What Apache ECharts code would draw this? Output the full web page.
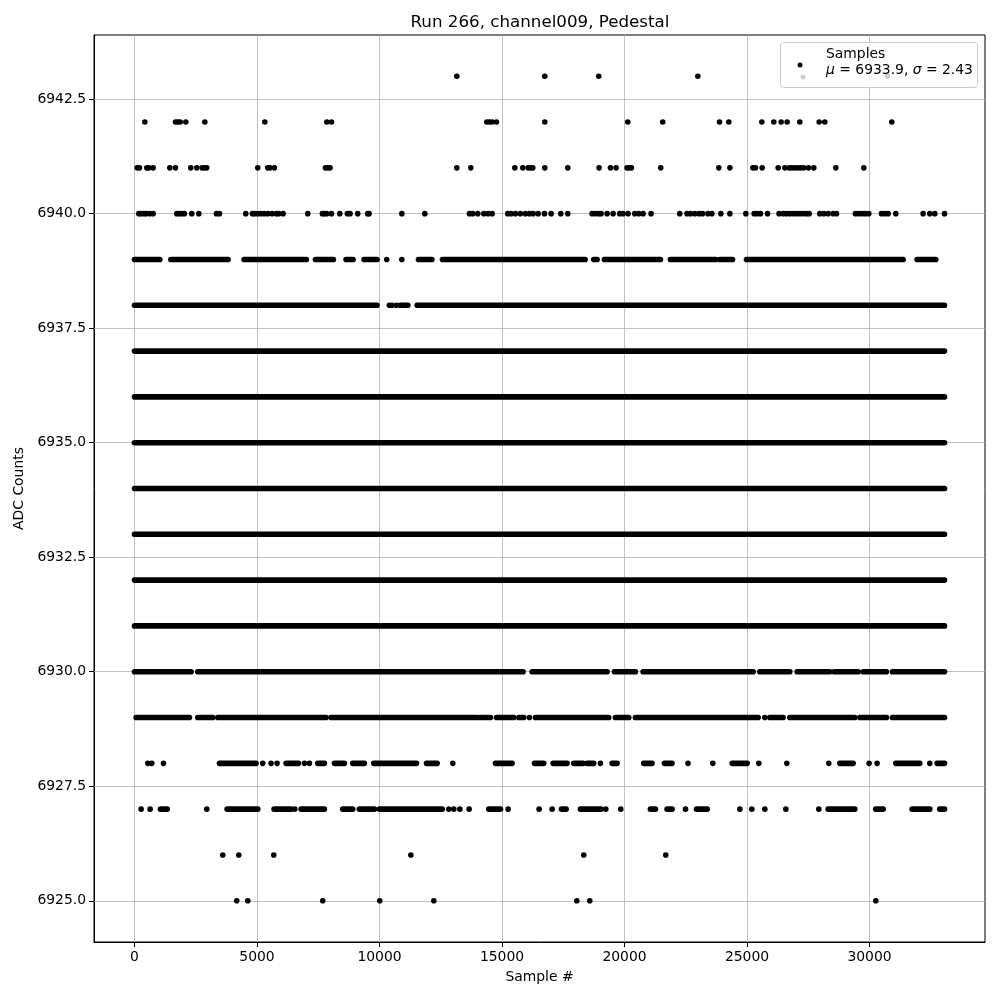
<!DOCTYPE html>
<html>
<head>
<meta charset="utf-8">
<script src="https://cdn.jsdelivr.net/npm/echarts@6/dist/echarts.min.js"></script>
<style>html,body{margin:0;padding:0;background:#fff}#c{width:1000px;height:1000px}</style>
</head>
<body>
<div id="c"></div>
<script>
// ---- tick labels ----
const yTicks = [6925, 6927.5, 6930, 6932.5, 6935, 6937.5, 6940, 6942.5];
const xTicks = [0, 5000, 10000, 15000, 20000, 25000, 30000];

// ---- samples per ADC level: single sample indices, or [start, end] runs of consecutive samples ----
const lvl6943 = [13155, 16746, 18949, 22993, 30732];
const lvl6942 = [422, 1673, 1769, 1864, 2095, 2871, 5320, 7850, 8041, 14379, 14488, 14597, 14774, 16746, 20132, 21560, 23877, 24258, 25605, 26094, 26393, 26638, 27155, 27944, 28175, 30909];
const lvl6941 = [108, 203, 502, 584, 761, 1441, 1672, 2297, 2542, 2760, 2855, 2950, 5031, 5439, 5534, 5711, 7792, 7887, 7982, 13155, 13727, 15522, 15848, 16066, 16161, 16256, 16746, 17684, 18963, 19425, 19656, 20105, 20187, 20282, 21479, 23850, 24299, 25237, 25346, 25618, 26271, 26543, 26720, 26829, 26951, 27073, 27196, 27318, 27509, 27726, 28624, 29766];
const lvl6940 = [176, 271, 380, 475, 625, 761, 1727, 1822, 1917, 2039, 2338, 2624, 3345, 3467, 4541, 4813, 4909, 5031, 5167, 5303, 5439, 5616, 5793, 5888, 6065, 7071, 7670, 7751, 7846, 8037, 8377, 8690, 8798, 9111, 9519, 9574,
  10911, 11850, 13672, 13808, 14012, 14257, 14434, 14597, 15236, 15372, 15549, 15753, 15957, 16120, 16270, 16474, 16732, 17004, 17399, 17684, 18677, 18813, 18949, 19044, 19289, 19534, 19805, 19942, 20146, 20418, 20581, 20758, 21084, 22254, 22553,
  22694, 22871, 23048, 23184, 23401, 23565, 23932, 24299, 24952, 25292, 25415, 25550, 25836, 26307, 26475, 26611, 26747, 26883, 27019, 27155, 27291, 27427, 27536, 27971, 28134, 28311, 28515, 28651, 29426, 29563, 29699, 29835, 29971, 30487, 30623, 30759, 31072, 32187, 32459, 32663, 33060];
const lvl6939 = [[0, 1033], [1481, 3821], [4473, 7017], [7384, 8118], [8635, 8921], [9369, 9900], 10294, 10911, [11591, 12135], [12571, 18391], [18745, 18881], [19180, 21465], [21873, 23728], [23891, 24408], [24979, 31371], [31942, 32704]];
const lvl6938 = [[0, 9900], 10403, 10517, 10694, [10857, 11156], [11537, 33060]];
const lvl6937 = [[0, 33060]];
const lvl6936 = [[0, 33060]];
const lvl6935 = [[0, 33060]];
const lvl6934 = [[0, 33060]];
const lvl6933 = [[0, 33060]];
const lvl6932 = [[0, 33060]];
const lvl6931 = [[0, 33060]];
const lvl6930 = [[0, 2311], [2583, 15862], [16229, 19289], [19588, 20445], [20758, 25251], [25523, 26747], [27046, 28379], [28556, 29535], [29739, 30691], [30936, 33060]];
const lvl6929 = [[67, 2243], [2583, 3195], [3399, 7819], [8023, 14012], [14121, 14529], [14774, 15481], [15685, 15889], 16120, [16365, 19357], [19629, 20173], [20445, 25455], 25727, [25931, 26475], [26747, 29399], [29603, 30691], [30936, 33060]];
const lvl6928 = [543, 706, 1182, [3467, 4963], 5235, 5575, 5820, [6187, 6690], 6935, 7139, [7479, 7751], [8159, 8567], [8907, 9383], [9764, 11510], [11918, 12353], 12992, [14733, 15413], [16324, 16705], [17086, 17657], [17929, 18310], [18473, 18745], 19017, [19493, 19697], [20785, 21125], [21628, 21941], 22590, 23605, [24394, 25006], 25482, 26625, 28338, [28787, 29331], 29984, 30310, [31072, 32051], 32459, [32758, 33060]];
const lvl6927 = [271, 638, [1060, 1332], 2950, [3780, 5031], [5697, 6391], 6541, [6799, 7751], [8499, 8907], [9179, 9791], [9995, 12557], 12829, 13033, 13278, 13659, [14461, 14937], 15249, 16514, 17045, [17426, 17616], [18201, 19044], 19235, 19847, [21057, 21261], [21737, 21941], 22490, [22939, 23374], 24707, 25197, 25727, 26584, 27930, [28311, 29399], [30256, 30555], [31738, 32459], [32867, 33060]];
const lvl6926 = [3603, 4256, 5684, 11279, 18337, 21683];
const lvl6925 = [4174, 4623, 7683, 10009, 12217, 18051, 18582, 30256];

const levels = [
  [6943, lvl6943], [6942, lvl6942], [6941, lvl6941], [6940, lvl6940], [6939, lvl6939], [6938, lvl6938],
  [6937, lvl6937], [6936, lvl6936], [6935, lvl6935], [6934, lvl6934], [6933, lvl6933], [6932, lvl6932],
  [6931, lvl6931], [6930, lvl6930], [6929, lvl6929], [6928, lvl6928], [6927, lvl6927], [6926, lvl6926], [6925, lvl6925]
];

const sampleData = [];
levels.forEach(([y, arr]) => {
  arr.forEach(e => {
    if (Array.isArray(e)) sampleData.push([e[0], e[1], y]);
    else sampleData.push([e, e, y]);
  });
});

const FS = 13.9;
const FONT = 'DejaVu Sans';
const chart = echarts.init(document.getElementById('c'), null, {renderer: 'canvas'});
const gridLineStyle = {color: '#b0b0b0', width: 0.8, type: 'solid'};

chart.setOption({
  animation: false,
  backgroundColor: '#ffffff',
  textStyle: {fontFamily: FONT},
  title: {
    text: 'Run 266, channel009, Pedestal',
    left: 535, top: 9, textAlign: 'center',
    textStyle: {fontFamily: FONT, fontSize: 16.7, fontWeight: 'normal', color: '#000'}
  },
  grid: {left: 94, right: 15, top: 35, bottom: 58, show: true, borderColor: '#000', borderWidth: 1, backgroundColor: 'transparent'},
  xAxis: {
    type: 'value', min: -1653, max: 34713,
    name: 'Sample #', nameLocation: 'middle', nameGap: 28,
    nameTextStyle: {fontFamily: FONT, fontSize: FS, color: '#000'},
    axisLine: {show: true, onZero: false, lineStyle: {color: '#000', width: 1}},
    axisTick: {show: true, length: 5, customValues: xTicks, lineStyle: {color: '#000', width: 1}},
    axisLabel: {customValues: xTicks, margin: 8, fontFamily: FONT, fontSize: FS, color: '#000', formatter: v => String(v)},
    splitLine: {show: false}
  },
  yAxis: {
    type: 'value', min: 6924.1, max: 6943.9,
    name: 'ADC Counts', nameLocation: 'middle', nameGap: 64, nameRotate: 90,
    nameTextStyle: {fontFamily: FONT, fontSize: FS, color: '#000'},
    axisLine: {show: true, onZero: false, lineStyle: {color: '#000', width: 1}},
    axisTick: {show: true, length: 5, customValues: yTicks, lineStyle: {color: '#000', width: 1}},
    axisLabel: {customValues: yTicks, margin: 8, fontFamily: FONT, fontSize: FS, color: '#000', formatter: v => v.toFixed(1)},
    splitLine: {show: false}
  },
  series: [{
    type: 'custom',
    name: 'Samples',
    clip: true,
    z: 2,
    encode: {x: [0, 1], y: 2},
    data: sampleData,
    renderItem: function (params, api) {
      const a = api.coord([api.value(0), api.value(2)]);
      const b = api.coord([api.value(1), api.value(2)]);
      const r = 2.8;
      return {
        type: 'rect',
        shape: {x: a[0] - r, y: a[1] - r, width: b[0] - a[0] + 2 * r, height: 2 * r, r: r},
        style: {fill: '#000000'}
      };
    },
    markLine: {
      silent: true, symbol: 'none', z: 1, animation: false,
      label: {show: false},
      lineStyle: gridLineStyle,
      emphasis: {disabled: true},
      data: yTicks.map(v => ({yAxis: v})).concat(xTicks.map(v => ({xAxis: v})))
    }
  }],
  graphic: [
    {type: 'rect', z: 100, zlevel: 0, shape: {x: 780.5, y: 42.5, width: 197, height: 45, r: 3}, style: {fill: 'rgba(255,255,255,0.8)', stroke: '#cccccc', lineWidth: 1}},
    {type: 'circle', z: 101, shape: {cx: 800, cy: 65, r: 2.5}, style: {fill: '#000000'}},
    {type: 'circle', z: 101, shape: {cx: 803, cy: 77, r: 2.5}, style: {fill: '#cccccc'}},
    {type: 'text', z: 101, x: 826, y: 54, style: {text: 'Samples', fontFamily: FONT, fontSize: FS, fill: '#000', verticalAlign: 'middle'}},
    {type: 'text', z: 101, x: 826, y: 70, style: {
      text: '{i|μ} = 6933.9, {i|σ} = 2.43', fontFamily: FONT, fontSize: FS, fill: '#000', verticalAlign: 'middle',
      rich: {i: {fontFamily: FONT, fontSize: FS, fontStyle: 'italic', fill: '#000'}}
    }}
  ]
});
</script>
</body>
</html>
